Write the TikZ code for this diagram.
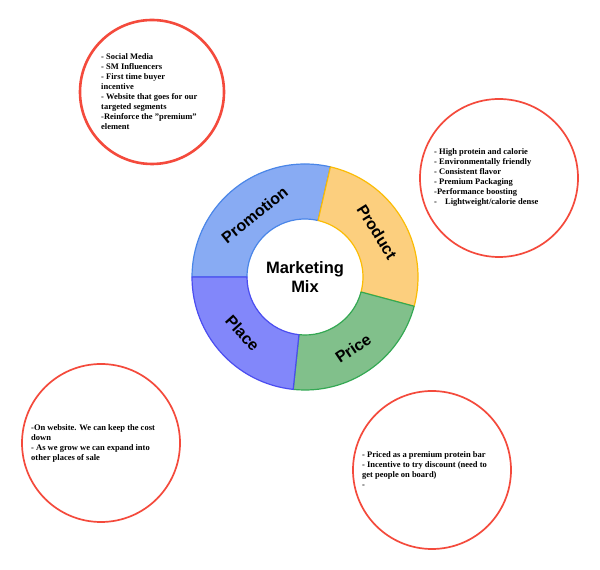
\documentclass[tikz,border=0pt]{standalone}
\usepackage{fontspec}
\setmainfont{Liberation Serif}
\newfontfamily\ringfont{Liberation Sans}
\usepackage{tikz}
\definecolor{promofill}{HTML}{88ABF3}
\definecolor{promoline}{HTML}{4A86E8}
\definecolor{prodfill}{HTML}{FCCF7E}
\definecolor{prodline}{HTML}{FBBC04}
\definecolor{pricefill}{HTML}{81C08B}
\definecolor{priceline}{HTML}{34A853}
\definecolor{placefill}{HTML}{8287FA}
\definecolor{placeline}{HTML}{4B4DF0}
\definecolor{noteline}{HTML}{F44A3C}
\tikzstyle{seg}=[line width=1.2pt, line join=round]
\tikzstyle{seglabel}=[inner sep=0pt, font=\ringfont\bfseries\fontsize{16}{18}\selectfont]
\tikzstyle{hub}=[inner sep=0pt, align=center, font=\ringfont\bfseries\fontsize{16.5}{19}\selectfont]
\tikzstyle{note}=[circle, draw=noteline, line width=1.7pt, fill=white, inner sep=0pt]
\tikzstyle{notetext}=[inner sep=0pt, anchor=north west, align=left, font=\bfseries\fontsize{8.5}{10}\selectfont]
% one piece of the ring: start angle, end angle, fill, line
\newcommand{\ringpiece}[4]{%
  \draw[seg, fill=#3, draw=#4] ([shift={(#1:113)}]mid) arc[start angle=#1, end angle=#2, radius=113]
    -- ([shift={(#2:58)}]mid) arc[start angle=#2, end angle=#1, radius=58] -- cycle;}

\begin{document}
\begin{tikzpicture}[x=1pt, y=1pt]
			\useasboundingbox (0,0) rectangle (600,570);
			\fill[white] (0,0) rectangle (600,570);

			%The ring
			\coordinate (mid) at (305,293);
			\ringpiece{77}{180}{promofill}{promoline}
			\ringpiece{-15}{77}{prodfill}{prodline}
			\ringpiece{-96}{-15}{pricefill}{priceline}
			\ringpiece{180}{264}{placefill}{placeline}

			%The ring labels
			\node[seglabel, rotate=39] (promo) at ([shift={(129:80)}]mid) {Promotion};
			\node[seglabel, rotate=-58] (prod) at ([shift={(32:85)}]mid) {Product};
			\node[seglabel, rotate=34] (price) at ([shift={(-56:86)}]mid) {Price};
			\node[seglabel, rotate=-48] (place) at ([shift={(-138:84)}]mid) {Place};
			\node[hub] (mix) at (mid) {Marketing\\Mix};

			%The notes
			\node[note, line width=2.6pt, minimum size=144pt] (n-promo) at (152,478) {};
			\node[note, minimum size=158pt] (n-prod) at (499,392) {};
			\node[note, minimum size=158pt] (n-place) at (101,127) {};
			\node[note, minimum size=158pt] (n-price) at (432,100) {};

			\node[notetext] (t-promo) at (101,517) {- Social Media\\- SM Influencers\\- First time buyer\\incentive\\- Website that goes for our\\targeted segments\\-Reinforce the "premium"\\element};
			\node[notetext] (t-prod) at (434,422) {- High protein and calorie\\- Environmentally friendly\\- Consistent flavor\\- Premium Packaging\\-Performance boosting\\-\hspace{6pt} Lightweight/calorie dense};
			\node[notetext] (t-place) at (31,146) {-On website. We can keep the cost\\down\\- As we grow we can expand into\\other places of sale};
			\node[notetext] (t-price) at (362,119) {- Priced as a premium protein bar\\- Incentive to try discount (need to\\get people on board)\\-};
\end{tikzpicture}
\end{document}
